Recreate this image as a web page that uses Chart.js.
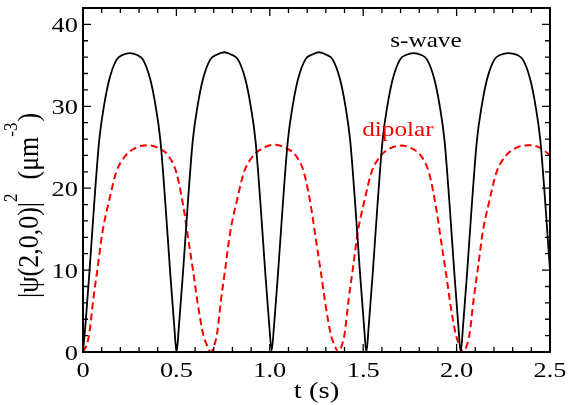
<!DOCTYPE html>
<html>
<head>
<meta charset="utf-8">
<script src="https://cdn.jsdelivr.net/npm/chart.js@4.4.1/dist/chart.umd.min.js"></script>
<style>
  body { margin: 0; background: #fff; }
  canvas { display: block; }
</style>
</head>
<body>
<canvas id="psiChart" width="572" height="405"></canvas>
<script>
// s-wave (black solid)
const sTime = [
  0, 0.012, 0.034, 0.059, 0.087, 0.112, 0.141, 0.18, 0.215, 0.25, 0.286, 0.321, 0.36, 0.389, 0.414, 0.442, 0.467, 0.489, 0.501,
  0.513, 0.535, 0.560, 0.588, 0.613, 0.642, 0.681, 0.716, 0.756, 0.795, 0.830, 0.869, 0.898, 0.923, 0.951, 0.976, 0.998, 1.010,
  1.022, 1.044, 1.069, 1.097, 1.122, 1.151, 1.190, 1.225, 1.263, 1.302, 1.337, 1.376, 1.405, 1.430, 1.458, 1.483, 1.505, 1.517,
  1.529, 1.551, 1.576, 1.604, 1.629, 1.658, 1.697, 1.732, 1.770, 1.807, 1.842, 1.881, 1.910, 1.935, 1.963, 1.988, 2.010, 2.022,
  2.034, 2.056, 2.081, 2.109, 2.134, 2.163, 2.202, 2.237, 2.276, 2.320, 2.355, 2.394, 2.423, 2.448, 2.476, 2.501, 2.523
];
const sWave = [
  0, 3.0, 9.6, 17.8, 25.9, 30.0, 33.3, 35.7, 36.3, 36.5, 36.3, 35.7, 33.3, 30.0, 25.9, 17.8, 9.6, 3.0, 0,
  3.0, 9.6, 17.8, 25.9, 30.0, 33.3, 35.7, 36.3, 36.6, 36.3, 35.7, 33.3, 30.0, 25.9, 17.8, 9.6, 3.0, 0.2,
  3.0, 9.6, 17.8, 25.9, 30.0, 33.3, 35.7, 36.3, 36.6, 36.3, 35.7, 33.3, 30.0, 25.9, 17.8, 9.6, 3.0, 0,
  3.0, 9.6, 17.8, 25.9, 30.0, 33.3, 35.7, 36.3, 36.5, 36.3, 35.7, 33.3, 30.0, 25.9, 17.8, 9.6, 3.0, 0,
  3.0, 9.6, 17.8, 25.9, 30.0, 33.3, 35.7, 36.3, 36.5, 36.3, 35.7, 33.3, 30.0, 25.9, 17.8, 9.6, 3.0
];

// dipolar (red dashed)
const dTime = [
  0, 0.020, 0.034, 0.055, 0.079, 0.103, 0.141, 0.177, 0.225, 0.280, 0.342, 0.404, 0.459, 0.500, 0.537, 0.564, 0.590, 0.617, 0.645, 0.664, 0.684,
  0.704, 0.718, 0.739, 0.763, 0.787, 0.825, 0.861, 0.909, 0.964, 1.026, 1.087, 1.142, 1.183, 1.220, 1.247, 1.273, 1.300, 1.328, 1.347, 1.367,
  1.387, 1.401, 1.422, 1.446, 1.470, 1.508, 1.544, 1.592, 1.647, 1.705, 1.756, 1.811, 1.852, 1.889, 1.916, 1.942, 1.969, 1.997, 2.016, 2.036,
  2.056, 2.070, 2.091, 2.115, 2.139, 2.177, 2.213, 2.261, 2.316, 2.385, 2.450, 2.505
];
const dipolar = [
  0, 0.9, 2.3, 6.4, 10.4, 14.5, 18.6, 21.9, 23.9, 24.9, 25.25, 24.9, 23.9, 21.9, 17.8, 13.7, 9.8, 5.5, 2.0, 0.8, 0,
  0.9, 2.3, 6.4, 10.4, 14.5, 18.6, 21.9, 23.9, 24.9, 25.3, 24.9, 23.9, 21.9, 17.8, 13.7, 9.8, 5.5, 2.0, 0.8, 0,
  0.9, 2.3, 6.4, 10.4, 14.5, 18.6, 21.9, 23.9, 24.9, 25.2, 24.9, 23.9, 21.9, 17.8, 13.7, 9.8, 5.5, 2.0, 0.8, 0,
  0.9, 2.3, 6.4, 10.4, 14.5, 18.6, 21.9, 23.9, 24.9, 25.25, 24.9, 23.9
];

const xTicks = [0, 0.5, 1.0, 1.5, 2.0, 2.5];
const xTickLabels = ['0', '0.5', '1.0', '1.5', '2.0', '2.5'];
const yTicks = [0, 10, 20, 30, 40];
const yTickLabels = ['0', '10', '20', '30', '40'];
const seriesNames = ['s-wave', 'dipolar'];
const nameSpots = [[1.836, 37.9], [1.686, 27.0]];

const serif = '"Liberation Serif", "DejaVu Serif", serif';

function stretchText(ctx, txt, x, y, align) {
  ctx.save();
  ctx.translate(x, y);
  ctx.scale(1.2, 1);
  ctx.textAlign = align;
  ctx.fillText(txt, 0, 0);
  ctx.restore();
}

const framePlugin = {
  id: 'framePlugin',
  afterDraw(chart) {
    const { ctx, chartArea: a, scales: { x, y } } = chart;
    ctx.save();
    ctx.strokeStyle = '#000';
    ctx.lineWidth = 1.3;
    ctx.beginPath();
    // inward ticks on all four sides
    for (let i = 0; i <= 25; i++) {
      const px = x.getPixelForValue(i / 10);
      const len = i % 5 === 0 ? 8 : 5;
      ctx.moveTo(px, a.bottom); ctx.lineTo(px, a.bottom - len);
      ctx.moveTo(px, a.top); ctx.lineTo(px, a.top + len);
    }
    for (let v = 0; v <= 42; v += 2) {
      const py = y.getPixelForValue(v);
      const len = v % 10 === 0 ? 8 : 5;
      ctx.moveTo(a.left, py); ctx.lineTo(a.left + len, py);
      ctx.moveTo(a.right, py); ctx.lineTo(a.right - len, py);
    }
    ctx.stroke();
    ctx.lineWidth = 2;
    ctx.strokeRect(a.left, a.top, a.right - a.left, a.bottom - a.top);

    // tick labels
    ctx.fillStyle = '#000';
    ctx.font = '22px ' + serif;
    ctx.textBaseline = 'alphabetic';
    xTicks.forEach((v, i) => stretchText(ctx, xTickLabels[i], x.getPixelForValue(v), a.bottom + 25, 'center'));
    yTicks.forEach((v, i) => stretchText(ctx, yTickLabels[i], a.left - 5, y.getPixelForValue(v) + 7.5, 'right'));

    // x title
    ctx.font = '24px ' + serif;
    stretchText(ctx, 't (s)', (a.left + a.right) / 2, 398, 'center');

    // series names
    ctx.font = '21px ' + serif;
    ctx.textBaseline = 'middle';
    ctx.fillStyle = '#000';
    stretchText(ctx, seriesNames[0], x.getPixelForValue(nameSpots[0][0]), y.getPixelForValue(nameSpots[0][1]), 'center');
    ctx.fillStyle = '#ff0000';
    stretchText(ctx, seriesNames[1], x.getPixelForValue(nameSpots[1][0]), y.getPixelForValue(nameSpots[1][1]), 'center');

    // y title, rotated, with superscripts
    ctx.fillStyle = '#000';
    ctx.textBaseline = 'alphabetic';
    ctx.translate(38, 298);
    ctx.rotate(-Math.PI / 2);
    ctx.scale(1, 1.15);
    const parts = [['|\u03c8(2,0,0)|', false], ['2', true], ['  (\u03bcm', false], ['-3', true], [')', false]];
    let cx = 0;
    parts.forEach(([txt, sup]) => {
      ctx.font = (sup ? '17px ' : '26px ') + serif;
      ctx.textAlign = 'left';
      ctx.fillText(txt, cx, sup ? -18 : 0);
      cx += ctx.measureText(txt).width + (sup ? 1 : 0);
    });
    ctx.restore();
  }
};

const ctx = document.getElementById('psiChart');

new Chart(ctx, {
  type: 'line',
  data: {
    datasets: [{
      label: seriesNames[0],
      data: sTime.map((t, i) => ({ x: t, y: sWave[i] })),
      borderColor: '#000',
      borderWidth: 1.8,
      pointRadius: 0,
      cubicInterpolationMode: 'monotone',
      fill: false
    }, {
      label: seriesNames[1],
      data: dTime.map((t, i) => ({ x: t, y: dipolar[i] })),
      borderColor: '#ff0000',
      borderWidth: 2,
      borderDash: [7, 4],
      pointRadius: 0,
      cubicInterpolationMode: 'monotone',
      fill: false
    }]
  },
  options: {
    responsive: false,
    animation: false,
    layout: { padding: { top: 8, right: 22, left: 0, bottom: 0 } },
    plugins: { legend: { display: false }, tooltip: { enabled: false } },
    scales: {
      x: {
        type: 'linear', min: 0, max: 2.5,
        grid: { display: false }, border: { display: false },
        ticks: { display: false },
        afterFit: (s) => { s.height = 53; }
      },
      y: {
        min: 0, max: 42,
        grid: { display: false }, border: { display: false },
        ticks: { display: false },
        afterFit: (s) => { s.width = 83; }
      }
    }
  },
  plugins: [framePlugin]
});
</script>
</body>
</html>
